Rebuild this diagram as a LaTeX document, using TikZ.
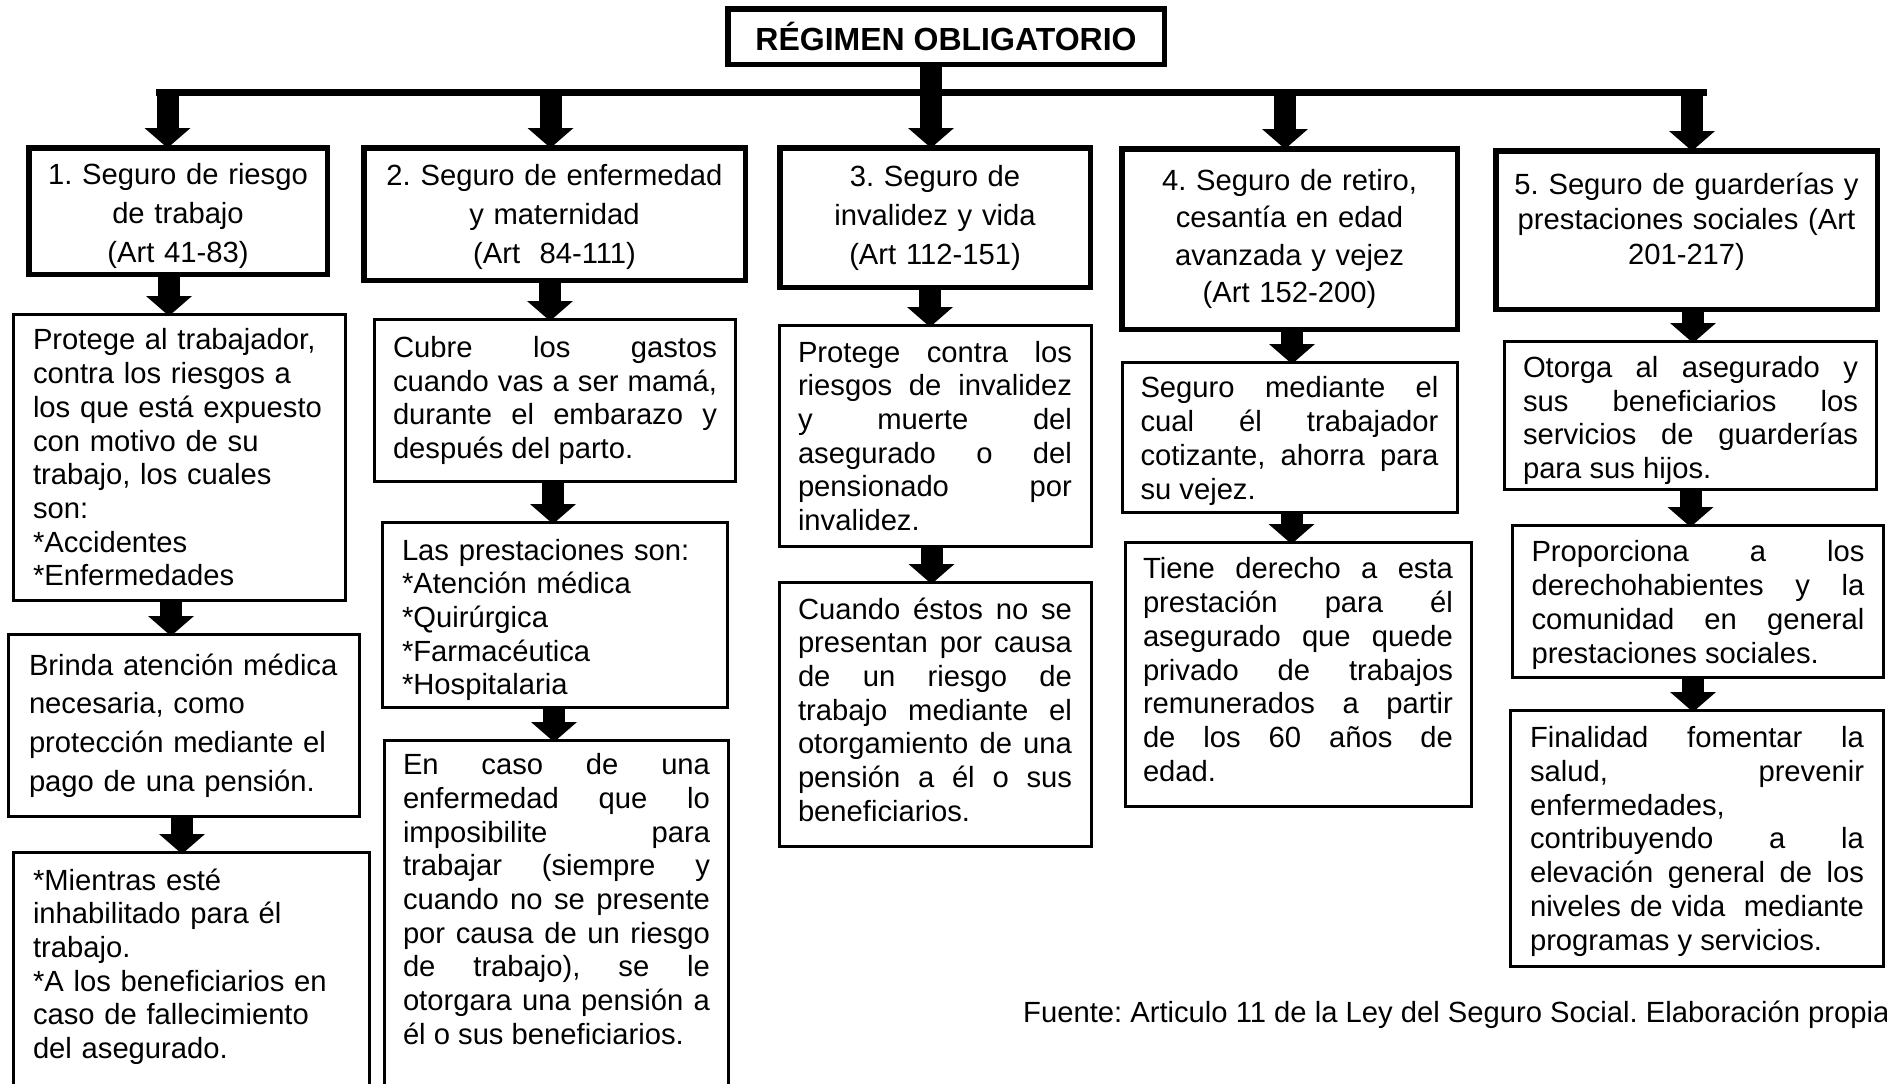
\documentclass[tikz,border=0pt]{standalone}
\usepackage{fontspec}
\setmainfont{Liberation Sans}
\usetikzlibrary{positioning,arrows.meta}
\hyphenpenalty=10000
\exhyphenpenalty=10000

\tikzstyle{titulo} = [rectangle, draw, line width=5.5pt, font=\fontsize{32pt}{38pt}\selectfont\bfseries, inner sep=0pt, minimum width=436.5pt, minimum height=55.5pt]
\tikzstyle{seguro} = [rectangle, draw, line width=5.5pt, font=\fontsize{29.2pt}{39pt}\selectfont, align=center, inner sep=0pt]
\tikzstyle{detalle} = [rectangle, draw, line width=3pt, font=\fontsize{29.2pt}{33.7pt}\selectfont, inner sep=0pt, anchor=north]
\tikzstyle{flecha} = [line width=22pt, -{Triangle[width=46pt,length=20pt,line width=0pt]}, shorten >=-3pt]
\tikzstyle{barra} = [line width=7pt]

\begin{document}
\frenchspacing
\begin{tikzpicture}[x=1pt, y=-1pt]
    \useasboundingbox (0,0) rectangle (1887,1084);
    \clip (0,0) rectangle (1887,1084);

    % Place nodes
    \node [titulo] (regimen) at (946,36.5) {RÉGIMEN OBLIGATORIO};
    \node [seguro, text width=280pt, minimum width=298.5pt, minimum height=126.5pt] (seg1) at (178,211) {\rule{0pt}{31pt}1. Seguro de riesgo\\ de trabajo\\ (Art 41-83)};
    \node [seguro, text width=360pt, minimum width=381.5pt, minimum height=132.5pt] (seg2) at (554.5,214) {\rule{0pt}{27.5pt}2. Seguro de enfermedad\\ y maternidad\\ (Art~ 84-111)};
    \node [seguro, text width=290pt, minimum width=310.5pt, minimum height=139.5pt] (seg3) at (935,217.5) {3. Seguro de\\ invalidez y vida\\ (Art 112-151)};
    \node [seguro, text width=315pt, minimum width=335.5pt, minimum height=180.5pt, font=\fontsize{29.2pt}{37.5pt}\selectfont] (seg4) at (1289.5,239) {4. Seguro de retiro,\\ cesantía en edad\\ avanzada y vejez\\ (Art 152-200)};
    \node [seguro, text width=360pt, minimum width=381.5pt, minimum height=158.5pt, font=\fontsize{29.2pt}{35pt}\selectfont] (seg5) at (1686.5,230) {5. Seguro de guarderías y\\ prestaciones sociales (Art\\ 201-217)\rule[-22pt]{0pt}{0pt}};

    \node [detalle, align=left, text width=293pt, minimum width=332pt, minimum height=286pt, below=36pt of seg1, xshift=1.5pt] (seg1a) {Protege al trabajador,\\ contra los riesgos a\\ los que está expuesto\\ con motivo de su\\ trabajo, los cuales\\ son:\\ {*}Accidentes\\ {*}Enfermedades};
    \node [detalle, align=left, text width=310pt, minimum width=351pt, minimum height=182pt, font=\fontsize{29.2pt}{38.7pt}\selectfont, below=31pt of seg1a, xshift=4.5pt] (seg1b) {Brinda atención médica\\ necesaria, como\\ protección mediante el\\ pago de una pensión.};
    \node [detalle, align=left, text width=317pt, minimum width=356pt, inner ysep=16pt, text depth=230pt, below=33pt of seg1b, xshift=7.5pt] (seg1c) {*Mientras esté\\ inhabilitado para él\\ trabajo.\\ {*}A los beneficiarios en\\ caso de fallecimiento\\ del asegurado.};

    \node [detalle, align=justify, text width=324pt, minimum width=361pt, minimum height=162pt, below=35pt of seg2, xshift=0.5pt] (seg2a) {Cubre los gastos\linebreak cuando vas a ser mamá,\linebreak durante el embarazo y\linebreak después del parto.};
    \node [detalle, align=left, text width=306pt, minimum width=345pt, minimum height=185pt, below=38pt of seg2a] (seg2b) {\rule{0pt}{31pt}Las prestaciones son:\\ {*}Atención médica\\ {*}Quirúrgica\\ {*}Farmacéutica\\ {*}Hospitalaria};
    \node [detalle, align=justify, text width=307pt, minimum width=344pt, inner ysep=13pt, text depth=330pt, below=30pt of seg2b, xshift=1.5pt] (seg2c) {En caso de una\linebreak enfermedad que lo\linebreak imposibilite para\linebreak trabajar (siempre y\linebreak cuando no se presente\linebreak por causa de un riesgo\linebreak de trabajo), se le\linebreak otorgara una pensión a\linebreak él o sus beneficiarios.};

    \node [detalle, align=justify, text width=274pt, minimum width=312pt, minimum height=221pt, below=34pt of seg3] (seg3a) {Protege contra los\linebreak riesgos de invalidez\linebreak y muerte del\linebreak asegurado o del\linebreak pensionado por\linebreak invalidez.};
    \node [detalle, align=justify, text width=274pt, minimum width=312pt, minimum height=264pt, below=33pt of seg3a] (seg3b) {Cuando éstos no se\linebreak presentan por causa\linebreak de un riesgo de\linebreak trabajo mediante el\linebreak otorgamiento de una\linebreak pensión a él o sus\linebreak beneficiarios.\rule[-10pt]{0pt}{0pt}};

    \node [detalle, align=justify, text width=298pt, minimum width=335pt, minimum height=150pt, below=29pt of seg4] (seg4a) {\rule{0pt}{28pt}Seguro mediante el\linebreak cual él trabajador\linebreak cotizante, ahorra para\linebreak su vejez.};
    \node [detalle, align=justify, text width=310pt, minimum width=346pt, minimum height=264pt, below=27pt of seg4a, xshift=8.5pt] (seg4b) {Tiene derecho a esta\linebreak prestación para él\linebreak asegurado que quede\linebreak privado de trabajos\linebreak remunerados a partir\linebreak de los 60 años de\linebreak edad.\rule[-10pt]{0pt}{0pt}};

    \node [detalle, align=justify, text width=335pt, minimum width=372pt, minimum height=148pt, below=28pt of seg5, xshift=4pt] (seg5a) {\rule{0pt}{31pt}Otorga al asegurado y\linebreak sus beneficiarios los\linebreak servicios de guarderías\linebreak para sus hijos.};
    \node [detalle, align=justify, text width=333pt, minimum width=371pt, minimum height=152pt, below=33pt of seg5a, xshift=7.5pt] (seg5b) {\rule{0pt}{28pt}Proporciona a los\linebreak derechohabientes y la\linebreak comunidad en general\linebreak prestaciones sociales.};
    \node [detalle, align=justify, text width=334pt, minimum width=373pt, minimum height=256pt, below=30pt of seg5b, xshift=-1pt] (seg5c) {\rule{0pt}{27pt}Finalidad fomentar la\linebreak salud, prevenir\linebreak enfermedades,\linebreak contribuyendo a la\linebreak elevación general de los\linebreak niveles de vida~ mediante\linebreak programas y servicios.};

    \node [anchor=base west, inner sep=0pt, font=\fontsize{29.2pt}{33.7pt}\selectfont] (fuente) at (1023,1022) {Fuente: Articulo 11 de la Ley del Seguro Social. Elaboración propia};

    % Connectors
    \coordinate (bar) at (0,92.5);
    \draw [barra] ([xshift=-22pt]seg1.north |- bar) -- ([xshift=20.5pt]seg5.north |- bar);
    \draw [flecha] ([xshift=-4pt]seg3.north |- regimen.south) -- ([xshift=-4pt]seg3.north);
    \draw [flecha] ([xshift=-10.5pt]seg1.north |- bar) -- ([xshift=-10.5pt]seg1.north);
    \draw [flecha] ([xshift=-4pt]seg2.north |- bar) -- ([xshift=-4pt]seg2.north);
    \draw [flecha] ([xshift=-4.5pt]seg4.north |- bar) -- ([xshift=-4.5pt]seg4.north);
    \draw [flecha] ([xshift=5.5pt]seg5.north |- bar) -- ([xshift=5.5pt]seg5.north);

    \draw [flecha] ([xshift=-9pt]seg1.south) -- ([xshift=-9pt]seg1.south |- seg1a.north);
    \draw [flecha] ([xshift=-8.5pt]seg1a.south) -- ([xshift=-8.5pt]seg1a.south |- seg1b.north);
    \draw [flecha] ([xshift=-2pt]seg1b.south) -- ([xshift=-2pt]seg1b.south |- seg1c.north);
    \draw [flecha] ([xshift=-4.5pt]seg2.south) -- ([xshift=-4.5pt]seg2.south |- seg2a.north);
    \draw [flecha] ([xshift=-2pt]seg2a.south) -- ([xshift=-2pt]seg2a.south |- seg2b.north);
    \draw [flecha] ([xshift=-1pt]seg2b.south) -- ([xshift=-1pt]seg2b.south |- seg2c.north);
    \draw [flecha] ([xshift=-5pt]seg3.south) -- ([xshift=-5pt]seg3.south |- seg3a.north);
    \draw [flecha] ([xshift=-3.5pt]seg3a.south) -- ([xshift=-3.5pt]seg3a.south |- seg3b.north);
    \draw [flecha] ([xshift=2.5pt]seg4.south) -- ([xshift=2.5pt]seg4.south |- seg4a.north);
    \draw [flecha] ([xshift=2pt]seg4a.south) -- ([xshift=2pt]seg4a.south |- seg4b.north);
    \draw [flecha] ([xshift=6.5pt]seg5.south) -- ([xshift=6.5pt]seg5.south |- seg5a.north);
    \draw [flecha] (seg5a.south) -- (seg5a.south |- seg5b.north);
    \draw [flecha] ([xshift=-5pt]seg5b.south) -- ([xshift=-5pt]seg5b.south |- seg5c.north);
\end{tikzpicture}
\end{document}
